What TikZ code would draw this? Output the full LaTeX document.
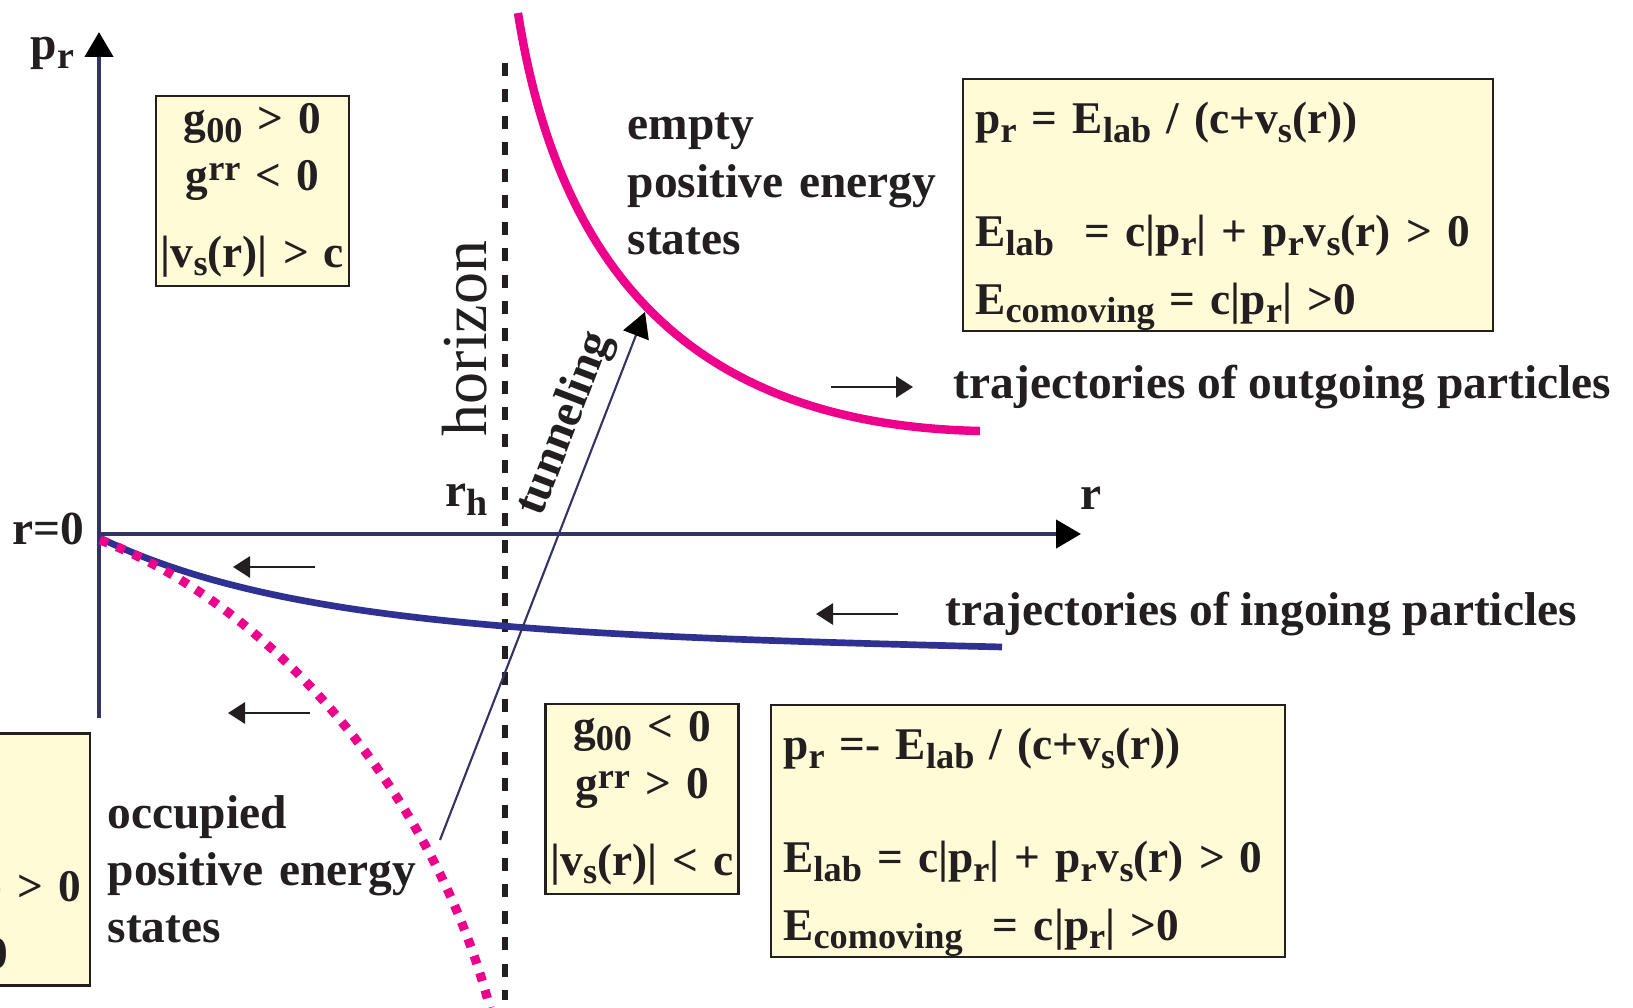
\documentclass[tikz,border=0pt]{standalone}
\usepackage{fontspec}
\setmainfont{Liberation Serif}
\usepackage{tikz}
\usetikzlibrary{arrows.meta,positioning}

\definecolor{axisnavy}{RGB}{51,51,102}
\definecolor{ingoingblue}{RGB}{46,49,146}
\definecolor{outgoingpink}{RGB}{236,0,140}
\definecolor{boxcream}{RGB}{255,251,215}
\definecolor{ink}{RGB}{35,31,32}

\newcommand{\lowtxt}[1]{\raisebox{-0.4ex}{\scalebox{0.8}{#1}}}
\newcommand{\hightxt}[1]{\raisebox{0.5ex}{\scalebox{0.8}{#1}}}

\begin{document}
\begin{tikzpicture}[
        font=\fontsize{13.5}{16.3}\selectfont\bfseries,
        text=ink,
        axis/.style={draw=axisnavy, line width=1.25pt, -{Triangle[length=0.25cm,width=0.28cm,color=black]}},
        metric/.style={
            draw=ink,
            line width=0.75pt,
            fill=boxcream,
            minimum width=1.93cm,
            minimum height=1.90cm,
            inner sep=0pt
        },
        energy/.style={
            draw=ink,
            line width=0.75pt,
            fill=boxcream,
            minimum height=2.52cm,
            inner sep=0pt
        },
        metrictext/.style={anchor=base, text width=2.1cm, align=center, inner sep=0pt, font=\fontsize{12.9}{16.3}\selectfont\bfseries},
        energytext/.style={anchor=base west, text width=5.3cm, align=left, inner sep=0pt, font=\fontsize{12.9}{16.3}\selectfont\bfseries},
        note/.style={anchor=base west, inner sep=0pt},
        flow/.style={draw=ink, line width=0.85pt, -{Triangle[length=0.17cm,width=0.21cm]}},
        tunnel/.style={draw=axisnavy, line width=0.6pt, -{Triangle[length=0.25cm,width=0.27cm,color=black]}},
        horizonline/.style={draw=ink, line width=1.6pt, dash pattern=on 0.13cm off 0.135cm},
        outcurve/.style={draw=outgoingpink, line width=2.4pt},
        incurve/.style={draw=ingoingblue, line width=1.9pt},
        occcurve/.style={draw=outgoingpink, line width=2.6pt, dash pattern=on 0.085cm off 0.095cm}
    ]
    \useasboundingbox (0,0) rectangle (16.33,-10.08);
    \clip (0,0) rectangle (16.33,-10.08);

    % axes and horizon
    \coordinate (origin) at (0.99,-5.34);
    \coordinate (rtip) at (10.81,-5.34);
    \coordinate (pbottom) at (0.99,-7.18);
    \coordinate (ptip) at (0.99,-0.32);
    \coordinate (htop) at (5.05,-0.63);
    \coordinate (hbottom) at (5.05,-10.00);
    \draw[axis] (origin) -- (rtip);
    \draw[axis] (pbottom) -- (ptip);
    \draw[horizonline] (htop) -- (hbottom);

    % trajectories
    \coordinate (outstart) at (5.18,-0.13);
    \coordinate (outend) at (9.80,-4.31);
    \coordinate (instart) at (1.00,-5.38);
    \coordinate (inend) at (10.02,-6.47);
    \coordinate (occstart) at (1.00,-5.40);
    \coordinate (occend) at (4.90,-10.08);
    \draw[outcurve] (outstart) .. controls (5.60,-2.80) and (7.00,-4.25) .. (outend);
    \draw[incurve] (instart) .. controls (2.80,-6.25) and (5.50,-6.36) .. (inend);
    \draw[occcurve] (occstart) .. controls (2.60,-6.00) and (4.30,-7.80) .. (occend);

    \coordinate (tunnelfrom) at (4.40,-8.40);
    \coordinate (tunnelto) at (6.45,-3.12);
    \draw[tunnel] (tunnelfrom) -- (tunnelto);

    % direction arrows
    \coordinate (outfrom) at (8.31,-3.87);
    \coordinate (outto) at (9.13,-3.87);
    \coordinate (infrom) at (8.98,-6.14);
    \coordinate (into) at (8.16,-6.14);
    \coordinate (upfrom) at (3.15,-5.67);
    \coordinate (upto) at (2.33,-5.67);
    \coordinate (lowfrom) at (3.10,-7.13);
    \coordinate (lowto) at (2.28,-7.13);
    \foreach \from/\to in {outfrom/outto,infrom/into,upfrom/upto,lowfrom/lowto} {
        \draw[flow] (\from) -- (\to);
    }

    % boxes
    \node[metric] (inmetric) at (2.525,-1.91) {};
    \node[metric] (outmetric) at (6.42,-7.99) {};
    \node[energy, minimum width=5.30cm] (outenergy) at (12.28,-2.05) {};
    \node[energy, minimum width=5.14cm] (inenergy) at (10.28,-8.31) {};
    \node[energy, minimum width=5.14cm] (leftenergy) at (-1.67,-8.595) {};

    \node[metrictext] (inmetrictext) at ([yshift=-0.39cm]inmetric.north) {g\lowtxt{00} > 0\\g\hightxt{rr} < 0\\[0.19cm]|v\lowtxt{s}(r)| > c};
    \node[metrictext] (outmetrictext) at ([yshift=-0.39cm]outmetric.north) {g\lowtxt{00} < 0\\g\hightxt{rr} > 0\\[0.19cm]|v\lowtxt{s}(r)| < c};
    \node[energytext] (outenergytext) at ([xshift=0.13cm,yshift=-0.56cm]outenergy.north west) {p\lowtxt{r} = E\lowtxt{lab} / (c+v\lowtxt{s}(r))\\[0.56cm]E\lowtxt{lab}\ \ = c|p\lowtxt{r}| + p\lowtxt{r}v\lowtxt{s}(r) > 0\\[0.10cm]E\lowtxt{comoving} = c|p\lowtxt{r}| >0};
    \node[energytext] (inenergytext) at ([xshift=0.13cm,yshift=-0.56cm]inenergy.north west) {p\lowtxt{r} =- E\lowtxt{lab} / (c+v\lowtxt{s}(r))\\[0.56cm]E\lowtxt{lab} = c|p\lowtxt{r}| + p\lowtxt{r}v\lowtxt{s}(r) > 0\\[0.10cm]E\lowtxt{comoving}\ \ = c|p\lowtxt{r}| >0};
    \node[energytext, anchor=base east, align=right] (leftenergytext) at ([xshift=-0.09cm,yshift=-1.69cm]leftenergy.north east) {E\lowtxt{lab} = c|p\lowtxt{r}| + p\lowtxt{r}v\lowtxt{s}(r) > 0\\[0.10cm]E\lowtxt{comoving} = c|p\lowtxt{r}| >0\hspace*{0.73cm}};

    % labels
    \node[note] (prlbl) at (0.30,-0.60) {p\lowtxt{r}};
    \node[note, anchor=base east] (rzerolbl) at (0.85,-5.45) {r=0};
    \node[note] (rlbl) at (10.80,-5.10) {r};
    \node[note] (rhlbl) at (4.45,-5.07) {r\lowtxt{h}};
    \node[rotate=90, inner sep=0pt, font=\fontsize{18.2}{20}\selectfont\mdseries] (horizonlbl) at (4.65,-3.385) {horizon};
    \node[rotate=69, inner sep=0pt] (tunnellbl) at (5.66,-4.24) {tunneling};
    \node[note, text width=3.5cm, align=left] (emptylbl) at (6.27,-1.40) {empty\\positive energy\\states};
    \node[note, text width=3.5cm, align=left] (occupiedlbl) at (1.07,-8.28) {occupied\\positive energy\\states};
    \node[note, right=0.40cm of outto] (outlbl) {trajectories of outgoing particles};
    \node[note, right=0.47cm of infrom] (inlbl) {trajectories of ingoing particles};
\end{tikzpicture}
\end{document}
